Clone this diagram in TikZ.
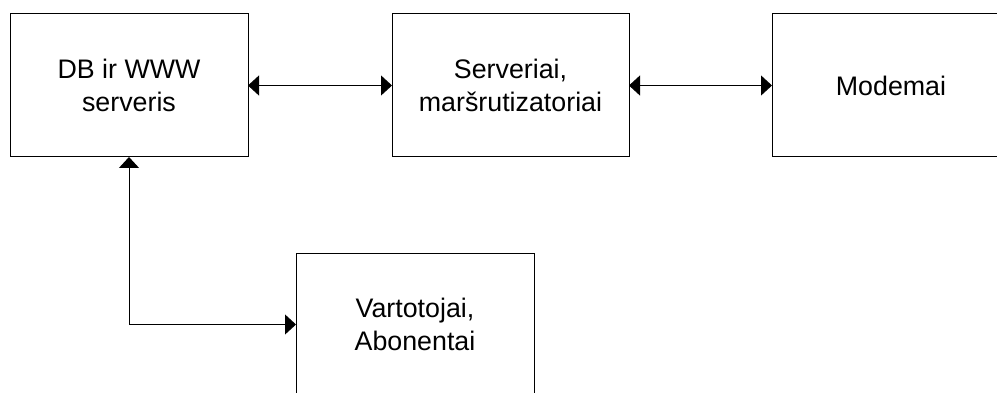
\documentclass[tikz,border=0pt]{standalone}
\usepackage{fontspec}
\setmainfont{Liberation Sans}
\usetikzlibrary{arrows.meta}
\begin{document}
\begin{tikzpicture}[x=1pt,y=-1pt,
  blockbox/.style={draw=black, line width=1pt, rectangle, inner sep=0pt, outer sep=0pt,
    minimum width=238pt, minimum height=143pt, align=center,
    font=\fontsize{26.8}{33}\selectfont},
  link/.style={draw=black, line width=1pt,
    {Triangle[length=11pt,width=20pt]}-{Triangle[length=11pt,width=20pt]}}]
  \useasboundingbox (0,0) rectangle (997,393);
  \clip (0,0) rectangle (997,393);
  \node[blockbox] (db)  at (129,85.5)   {DB ir WWW\\serveris};
  \node[blockbox, minimum width=237pt] (srv) at (510.5,85.5) {Serveriai,\\maršrutizatoriai};
  \node[blockbox] (mod) at (891,85.5)   {Modemai};
  \node[blockbox] (usr) at (415,324.5)  {Vartotojai,\\Abonentai};
  \draw[link] (db.east) -- (srv.west);
  \draw[link] (srv.east) -- (mod.west);
  \draw[link] (db.south) |- (usr.west);
\end{tikzpicture}
\end{document}
